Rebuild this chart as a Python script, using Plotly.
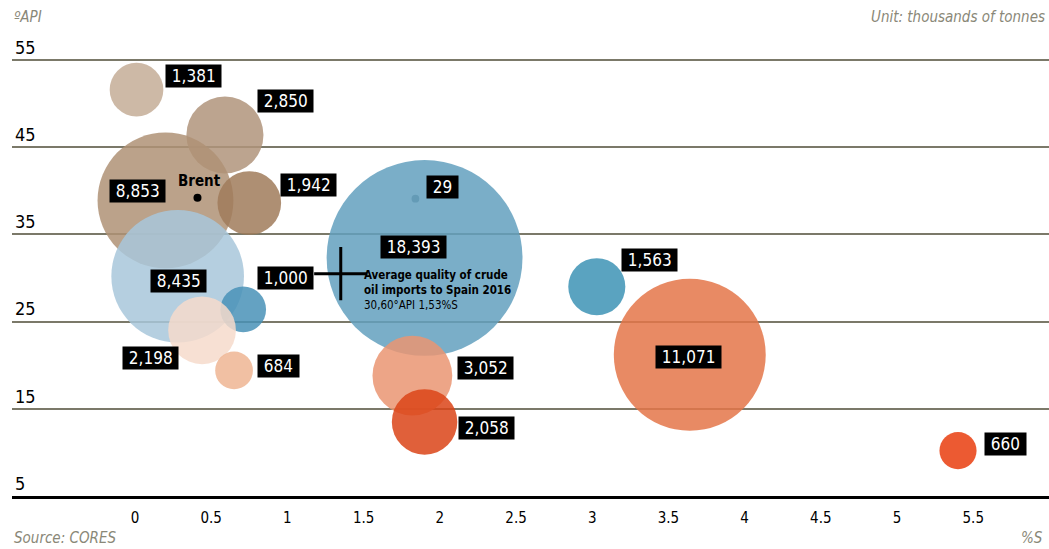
import plotly.graph_objects as go

# ---- data ----
labels = ["1,381", "2,850", "8,853", "1,942", "29", "18,393", "8,435", "1,000",
          "2,198", "684", "1,563", "11,071", "3,052", "2,058", "660"]
volumes = [1381, 2850, 8853, 1942, 29, 18393, 8435, 1000, 2198, 684, 1563, 11071, 3052, 2058, 660]
sulfur = [0.01, 0.59, 0.20, 0.75, 1.84, 1.90, 0.28, 0.71, 0.44, 0.65, 3.03, 3.64, 1.82, 1.90, 5.40]
api = [51.6, 46.4, 38.9, 38.6, 39.1, 32.3, 30.2, 26.4, 24.0, 19.4, 29.0, 21.2, 18.8, 13.5, 10.2]

brent_s, brent_api = [0.41], [39.2]
avg_s, avg_api = [1.35], [30.5]

x_ticks = [0, 0.5, 1, 1.5, 2, 2.5, 3, 3.5, 4, 4.5, 5, 5.5]
x_ticktext = ["0", "0.5", "1", "1.5", "2", "2.5", "3", "3.5", "4", "4.5", "5", "5.5"]
y_ticks = [5, 15, 25, 35, 45, 55]

# ---- styles ----
colors = ["rgb(196,173,150)", "rgb(176,148,123)", "rgb(175,146,117)", "rgb(160,123,91)",
          "rgb(109,125,132)", "rgb(99,160,190)", "rgb(168,199,219)", "rgb(73,146,183)",
          "rgb(246,219,203)", "rgb(239,181,147)", "rgb(61,147,181)", "rgb(228,117,73)",
          "rgb(234,149,114)", "rgb(219,68,23)", "rgb(233,61,14)"]
opacities = [0.85, 0.85, 0.85, 0.85, 1.0, 0.85, 0.85, 0.85, 0.85, 0.85, 0.85, 0.85, 0.85, 0.85, 0.85]
label_dx = [57, 61, -28, 59, 27, -11, 1, 42, -52, 44, 53, -1, 73, 62, 47]
label_dy = [14, 34, 9, 18, 12, 11, -5, 31, -28, 4, 27, -2, 8, -6, 7]

FONT = "DejaVu Sans Condensed, DejaVu Sans, sans-serif"
GRID = "#7b7969"
GREY = "#8a8878"

k = 1.444  # px diameter per sqrt(volume)
sizeref = 2 / (k * k)

fig = go.Figure()
fig.add_trace(go.Scatter(
    x=sulfur, y=api, mode="markers",
    marker=dict(size=volumes, sizemode="area", sizeref=sizeref, color=colors,
                opacity=opacities, line=dict(width=0)),
    hoverinfo="skip", showlegend=False))

fig.add_trace(go.Scatter(
    x=brent_s, y=brent_api, mode="markers",
    marker=dict(size=8, color="black"), showlegend=False, hoverinfo="skip"))

fig.add_trace(go.Scatter(
    x=avg_s, y=avg_api, mode="markers",
    marker=dict(symbol="cross-thin", size=38, line=dict(width=3, color="black")),
    showlegend=False, hoverinfo="skip"))

def f(size, color, **kw):
    return dict(family=FONT, size=size, color=color, **kw)

annotations = []
for lab, xs, ya, dx, dy in zip(labels, sulfur, api, label_dx, label_dy):
    annotations.append(dict(
        x=xs, y=ya, xref="x", yref="y", text="\u00a0" + lab + "\u00a0",
        showarrow=False, xshift=dx, yshift=dy, bgcolor="black", borderpad=1,
        font=f(17, "white")))

annotations.append(dict(x=brent_s[0], y=brent_api[0], xref="x", yref="y", text="Brent",
                        showarrow=False, yshift=17, xshift=2,
                        font=f(15, "black", weight="bold")))
annotations.append(dict(x=avg_s[0], y=avg_api[0], xref="x", yref="y",
                        text="<b>Average quality of crude</b><br><b>oil imports to Spain 2016</b><br>30,60°API 1,53%S",
                        showarrow=False, xanchor="left", yanchor="top", xshift=21, yshift=8,
                        align="left", font=f(11.5, "black")))

annotations += [
    dict(x=0, y=1, xref="paper", yref="paper", text="<i>ºAPI</i>", showarrow=False,
         xanchor="left", yanchor="bottom", yshift=2, font=f(15, GREY)),
    dict(x=1, y=1, xref="paper", yref="paper", text="<i>Unit: thousands of tonnes</i>",
         showarrow=False, xanchor="right", yanchor="bottom", yshift=2, xshift=-2,
         font=f(15, GREY)),
    dict(x=0, y=0, xref="paper", yref="paper", text="<i>Source: CORES</i>", showarrow=False,
         xanchor="left", yanchor="bottom", yshift=-53, font=f(15, GREY)),
    dict(x=1, y=0, xref="paper", yref="paper", text="<i>%S</i>", showarrow=False,
         xanchor="right", yanchor="bottom", yshift=-53, xshift=-4, font=f(15, GREY)),
]

fig.update_layout(
    width=1049, height=549,
    margin=dict(l=12, r=0, t=30, b=53),
    paper_bgcolor="white", plot_bgcolor="white",
    annotations=annotations,
    xaxis=dict(range=[-0.807, 5.997], tickvals=x_ticks, ticktext=x_ticktext, automargin=False,
               showgrid=False, zeroline=False, showline=True, linecolor="black", linewidth=3,
               ticks="outside", ticklen=6, tickcolor="rgba(0,0,0,0)",
               tickfont=f(15, "black")),
    yaxis=dict(range=[5, 58.44], tickvals=y_ticks, showgrid=True, gridcolor=GRID, gridwidth=2,
               automargin=False,
               zeroline=False, showline=False, ticks="", ticklabelposition="inside top",
               tickfont=f(18, "black")),
)

fig.write_html("out.html", config={"displayModeBar": False},
               post_script="document.body.style.margin='0';document.body.style.overflow='hidden';")
